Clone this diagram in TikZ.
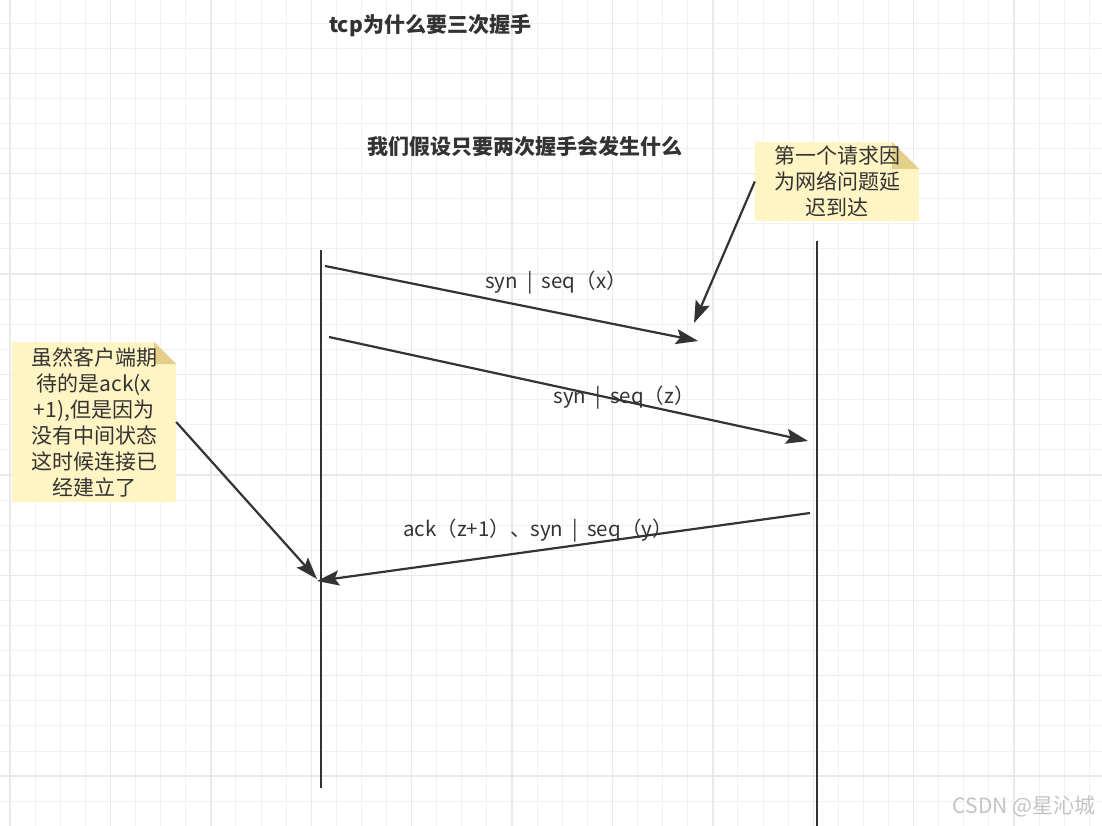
\documentclass[tikz,border=0pt]{standalone}
\usepackage{fontspec}
\setmainfont{Noto Sans CJK SC}
\usetikzlibrary{arrows.meta}
\definecolor{ink}{HTML}{333333}
\definecolor{gridminor}{HTML}{F1F1F1}
\definecolor{gridmajor}{HTML}{E9E9E9}
\definecolor{notefill}{HTML}{FFF4C3}
\definecolor{notefold}{HTML}{E3CF8A}
\definecolor{wm}{HTML}{C4C4C4}
\newcommand{\vbar}{\hspace{0.45em}|\hspace{0.45em}}
\begin{document}
\begin{tikzpicture}[x=1pt,y=-1pt,
  minorgrid/.style={draw=gridminor,line width=1pt},
  majorgrid/.style={draw=gridmajor,line width=1.4pt},
  lifeline/.style={draw=ink,line width=2.2pt},
  msg/.style={draw=ink,line width=2.2pt,-{Stealth[length=22pt,width=15pt,inset=4pt]}},
  lbl/.style={text=ink,font=\fontsize{20.5}{24}\selectfont,inner sep=0pt},
  titletext/.style={text=ink,font=\fontsize{21}{25}\selectfont\bfseries,inner sep=0pt},
  notetext/.style={text=ink,font=\fontsize{21}{26}\selectfont,align=center,inner sep=0pt},
  wmtext/.style={text=wm,font=\fontsize{21}{24}\selectfont,inner sep=0pt}
]
\useasboundingbox (0,0) rectangle (1102,826);
\fill[white] (0,0) rectangle (1102,826);
\begin{scope}
\clip (0,0) rectangle (1102,826);
% grid
\foreach \k in {0,...,43}{\draw[minorgrid] ({10+25.1*\k},0) -- ({10+25.1*\k},826);}
\foreach \k in {0,...,33}{\draw[minorgrid] (0,{-2+25.1*\k}) -- (1102,{-2+25.1*\k});}
\foreach \k in {0,...,10}{\draw[majorgrid] ({10+100.4*\k},0) -- ({10+100.4*\k},826);}
\foreach \k in {0,...,8}{\draw[majorgrid] (0,{73.3+100.4*\k}) -- (1102,{73.3+100.4*\k});}
\end{scope}

% titles
\node[titletext] (t1) at (430,26) {tcp为什么要三次握手};
\node[titletext] (t2) at (525,147) {我们假设只要两次握手会发生什么};

% notes (shapes)
\fill[notefill] (755,142) -- (892,142) -- (919,169) -- (919,221) -- (755,221) -- cycle;
\fill[notefold] (892,142) -- (892,169) -- (919,169) -- cycle;
\fill[notefill] (12,342) -- (154,342) -- (176,364) -- (176,502) -- (12,502) -- cycle;
\fill[notefold] (154,342) -- (154,364) -- (176,364) -- cycle;

\node[notetext,minimum width=164pt,minimum height=79pt] (note1) at (837,181.5)
  {第一个请求因\\为网络问题延\\迟到达};
\node[notetext,minimum width=164pt,minimum height=160pt] (note2) at (94,422)
  {虽然客户端期\\待的是ack(x\\+1),但是因为\\没有中间状态\\这时候连接已\\经建立了};

% lifelines
\coordinate (ltop) at (321,250);
\coordinate (lbot) at (321,788);
\coordinate (rtop) at (817,241);
\coordinate (rbot) at (817,830);
\draw[lifeline] (ltop) -- (lbot);
\draw[lifeline] (rtop) -- (rbot);

% messages
\coordinate (m1s) at (325,266);
\coordinate (m1e) at (698,341);
\coordinate (m2s) at (329,337);
\coordinate (m2e) at (808,441);
\coordinate (m3s) at (810,513);
\coordinate (m3e) at (317,581);
\coordinate (c1e) at (694,323);
\coordinate (c2e) at (317,579);

\draw[msg] (m1s) -- (m1e);
\draw[msg] (m2s) -- (m2e);
\draw[msg] (m3s) -- (m3e);
\draw[msg] (note1.west) -- (c1e);
\draw[msg] (note2.east) -- (c2e);

% labels
\node[lbl] (l1) at (556,283) {syn\vbar seq（x）};
\node[lbl] (l2) at (624,398) {syn\vbar seq（z）};
\node[lbl] (l3) at (538,531) {ack（z+1）、syn\vbar seq（y）};

% watermark
\node[wmtext] (wmk) at (1024,806) {CSDN @星沁城};
\end{tikzpicture}
\end{document}
